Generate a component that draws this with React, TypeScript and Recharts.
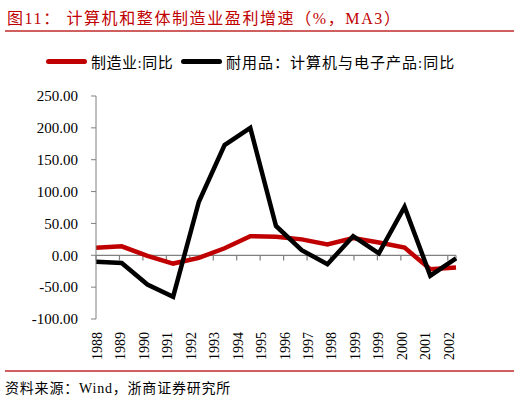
import React from 'react';
import { LineChart, Line, XAxis, YAxis, ReferenceLine } from 'recharts';

// x-axis labels (note: the source repeats 1999)
const yearLabels = [
  '1988', '1989', '1990', '1991', '1992', '1993', '1994', '1995',
  '1996', '1997', '1998', '1999', '1999', '2000', '2001', '2002',
];

// 制造业:同比 (MA3)
const manufacturing = [12, 14, -1, -13, -4, 11, 30, 29, 25, 17, 27, 20, 12, -22, -19];

// 耐用品：计算机与电子产品:同比 (MA3)
const computers = [-10, -12, -46, -65, 84, 173, 200, 46, 8, -14, 30, 3, 76, -32, -5];

const yTicks = [-100, -50, 0, 50, 100, 150, 200, 250];

const data = manufacturing.map((v, i) => ({ x: i, mfg: v, comp: computers[i] }));

const LAST = manufacturing.length - 1;
// labels are a little closer together than the data points in the source
const TICK_STEP = 0.912;
const tickPositions = yearLabels.map((_, i) => i * TICK_STEP);

const RED = '#c00000';
const RULE = '#d06060';
const AXIS = '#808080';
const SERIF = '"Liberation Serif", "Noto Sans CJK SC", serif';

const YearTick = (props: any) => {
  const { x, y, index } = props;
  return (
    <g transform={`translate(${x + 1},${y})`}>
      <text
        transform="rotate(-90)"
        x={-13}
        y={0}
        dy="0.35em"
        textAnchor="end"
        fontSize={14}
        fontFamily={SERIF}
        fill="#000"
      >
        {yearLabels[index]}
      </text>
    </g>
  );
};

const App: React.FC = () => {
  return (
    <div
      style={{
        position: 'absolute',
        left: 0,
        top: 0,
        width: 520,
        height: 402,
        background: '#fff',
        overflow: 'hidden',
        fontFamily: SERIF,
      }}
    >
      <div style={{ position: 'absolute', left: 7, top: 5, fontSize: 16, color: RED, letterSpacing: 1.6, whiteSpace: 'nowrap' }}>
        图11：&nbsp;计算机和整体制造业盈利增速（%，MA3）
      </div>
      <div style={{ position: 'absolute', left: 5, width: 509, top: 30, height: 1.5, background: RULE }} />

      <div style={{ position: 'absolute', left: 0, top: 50, width: 520, height: 22, fontSize: 15, whiteSpace: 'nowrap' }}>
        <div style={{ position: 'absolute', left: 46, top: 9, width: 41, height: 4.5, borderRadius: 3, background: RED }} />
        <span style={{ position: 'absolute', left: 91, top: 1, letterSpacing: 0.5 }}>制造业:同比</span>
        <div style={{ position: 'absolute', left: 181, top: 9, width: 41, height: 4.5, borderRadius: 3, background: '#000' }} />
        <span style={{ position: 'absolute', left: 226, top: 1, letterSpacing: 1 }}>耐用品：计算机与电子产品:同比</span>
      </div>

      <div style={{ position: 'absolute', left: 0, top: 0 }}>
        <LineChart width={520} height={402} data={data} margin={{ top: 96, right: 64, bottom: 33, left: 36 }}>
          <XAxis
            dataKey="x"
            type="number"
            domain={[0, LAST]}
            ticks={tickPositions}
            interval={0}
            axisLine={false}
            tickLine={false}
            tickSize={0}
            tickMargin={0}
            height={50}
            tick={<YearTick />}
          />
          <YAxis
            domain={[-100, 250]}
            ticks={yTicks}
            interval={0}
            width={60}
            tickSize={5}
            tickMargin={13}
            tickFormatter={(v: number) => v.toFixed(2)}
            stroke={AXIS}
            tick={{ fill: '#000', fontSize: 15, fontFamily: SERIF }}
          />
          <ReferenceLine y={0} stroke={AXIS} strokeWidth={1.2} ifOverflow="visible" />
          {[...tickPositions, LAST].map((t) => (
            <ReferenceLine
              key={t}
              stroke={AXIS}
              strokeWidth={1.2}
              ifOverflow="visible"
              segment={[
                { x: t, y: 0 },
                { x: t, y: -8 },
              ]}
            />
          ))}
          <Line
            type="linear"
            dataKey="mfg"
            stroke={RED}
            strokeWidth={4.5}
            dot={false}
            isAnimationActive={false}
          />
          <Line
            type="linear"
            dataKey="comp"
            stroke="#000"
            strokeWidth={4.5}
            dot={false}
            isAnimationActive={false}
          />
        </LineChart>
      </div>

      <div style={{ position: 'absolute', left: 5, width: 509, top: 370, height: 1.5, background: RULE }} />
      <div style={{ position: 'absolute', left: 5, top: 377, fontSize: 14, letterSpacing: 0.8, whiteSpace: 'nowrap' }}>
        资料来源：Wind，浙商证券研究所
      </div>
    </div>
  );
};

export default App;
